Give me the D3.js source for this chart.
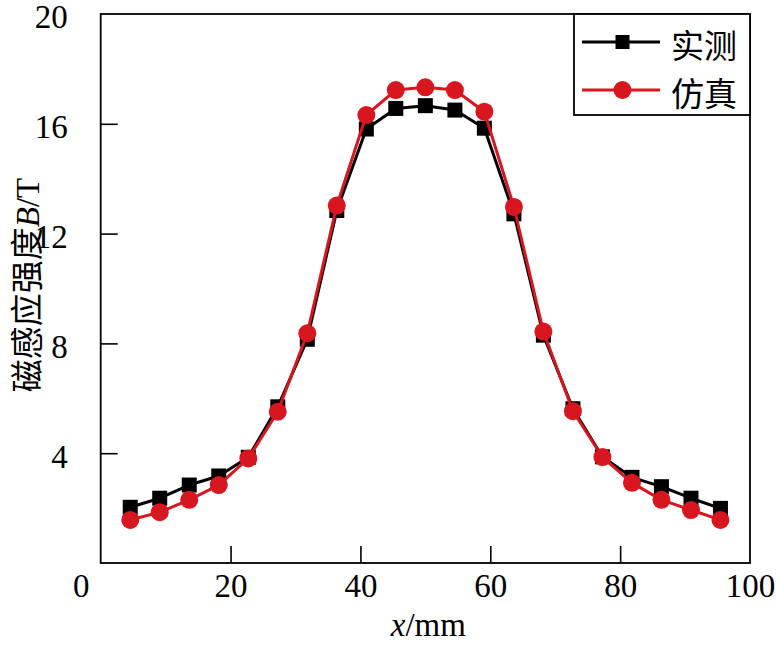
<!DOCTYPE html>
<html>
<head>
<meta charset="utf-8">
<script src="https://cdn.jsdelivr.net/npm/d3@7"></script>
<style>
  html, body { margin: 0; padding: 0; background: #fff; }
  svg { display: block; }
</style>
</head>
<body>
<svg id="chart" width="777" height="647"></svg>
<script>
// ---- data ----
const xValues = [4.55, 9.09, 13.64, 18.18, 22.73, 27.27, 31.82, 36.36, 40.91, 45.45, 50.00,
                 54.55, 59.09, 63.64, 68.18, 72.73, 77.27, 81.82, 86.36, 90.91, 95.45];
const measured = [2.03, 2.36, 2.84, 3.17, 3.85, 5.69, 8.15, 12.84, 15.81, 16.56, 16.66,
                  16.50, 15.84, 12.72, 8.30, 5.62, 3.87, 3.12, 2.78, 2.36, 1.99];
const simulated = [1.57, 1.85, 2.30, 2.84, 3.81, 5.51, 8.37, 13.02, 16.32, 17.23, 17.33,
                   17.23, 16.44, 12.97, 8.43, 5.53, 3.86, 2.92, 2.30, 1.93, 1.57];
const xTicks = [0, 20, 40, 60, 80, 100];
const yTicks = [4, 8, 12, 16, 20];
const seriesNames = ["实测", "仿真"];

// ---- layout ----
const svg = d3.select("#chart");
const L = 100.7, R = 750, T = 14, B = 563;
const x = d3.scaleLinear().domain([0, 100]).range([L, R]);
const y = d3.scaleLinear().domain([0, 20]).range([B, T]);
const latin = "'Liberation Serif', 'Times New Roman', serif";
const cjk = "'Noto Sans CJK SC', sans-serif";
const red = "#d7161f";

// axes
const xAxis = d3.axisBottom(x).tickValues(xTicks).tickSize(-17).tickPadding(17).tickFormat(d3.format("d"));
const gx = svg.append("g").attr("transform", `translate(0,${B})`).call(xAxis);
gx.select(".domain").remove();
gx.selectAll(".tick line").attr("stroke", "#000").attr("stroke-width", 1.6)
  .filter(d => d === 0 || d === 100).remove();
gx.selectAll(".tick text").attr("font-family", latin).attr("font-size", 33).attr("fill", "#000")
  .attr("dy", "0.5em")
  .attr("dx", d => d === 0 ? -20 : 0);

const yAxis = d3.axisLeft(y).tickValues(yTicks).tickSize(-17).tickPadding(33).tickFormat(d3.format("d"));
const gy = svg.append("g").attr("transform", `translate(${L},0)`).call(yAxis);
gy.select(".domain").remove();
gy.selectAll(".tick line").attr("stroke", "#000").attr("stroke-width", 1.6)
  .filter(d => d === 20).remove();
gy.selectAll(".tick text").attr("font-family", latin).attr("font-size", 33).attr("fill", "#000")
  .attr("dy", "0.42em");

// frame
svg.append("rect").attr("x", L).attr("y", T).attr("width", R - L).attr("height", B - T)
  .attr("fill", "none").attr("stroke", "#000").attr("stroke-width", 1.8);

// lines
const line = d3.line().x(d => x(d[0])).y(d => y(d[1]));
const mData = xValues.map((v, i) => [v, measured[i]]);
const sData = xValues.map((v, i) => [v, simulated[i]]);

svg.append("path").datum(mData).attr("d", line).attr("fill", "none")
  .attr("stroke", "#000").attr("stroke-width", 3).attr("stroke-linejoin", "round");
svg.append("g").selectAll("rect").data(mData).join("rect")
  .attr("x", d => x(d[0]) - 7.5).attr("y", d => y(d[1]) - 7.5)
  .attr("width", 15).attr("height", 15).attr("fill", "#000");

svg.append("path").datum(sData).attr("d", line).attr("fill", "none")
  .attr("stroke", red).attr("stroke-width", 3).attr("stroke-linejoin", "round");
svg.append("g").selectAll("circle").data(sData).join("circle")
  .attr("cx", d => x(d[0])).attr("cy", d => y(d[1])).attr("r", 9).attr("fill", red);

// legend
const lg = svg.append("g");
lg.append("rect").attr("x", 574).attr("y", T).attr("width", R - 574).attr("height", 101)
  .attr("fill", "#fff").attr("stroke", "#000").attr("stroke-width", 1.8);
const ly = [42, 90];
lg.append("line").attr("x1", 582).attr("x2", 660).attr("y1", ly[0]).attr("y2", ly[0])
  .attr("stroke", "#000").attr("stroke-width", 3);
lg.append("rect").attr("x", 622.5 - 7).attr("y", ly[0] - 7).attr("width", 14).attr("height", 14).attr("fill", "#000");
lg.append("line").attr("x1", 582).attr("x2", 660).attr("y1", ly[1]).attr("y2", ly[1])
  .attr("stroke", red).attr("stroke-width", 3);
lg.append("circle").attr("cx", 622.5).attr("cy", ly[1]).attr("r", 9).attr("fill", red);
seriesNames.forEach((n, i) => {
  lg.append("text").attr("x", 671).attr("y", ly[i] + 4).attr("dy", "0.35em")
    .attr("font-family", cjk).attr("font-size", 33).attr("fill", "#000").text(n);
});

// axis titles
const xt = svg.append("text").attr("x", (L + R) / 2 + 3).attr("y", 636).attr("text-anchor", "middle")
  .attr("font-family", latin).attr("font-size", 33).attr("fill", "#000");
xt.append("tspan").attr("font-style", "italic").text("x");
xt.append("tspan").text("/mm");

const yt = svg.append("text").attr("transform", "translate(39,285) rotate(-90)")
  .attr("text-anchor", "middle").attr("fill", "#000").attr("font-size", 33);
yt.append("tspan").attr("font-family", cjk).text("磁感应强度");
yt.append("tspan").attr("font-family", latin).attr("font-style", "italic").text("B");
yt.append("tspan").attr("font-family", latin).text("/T");
</script>
</body>
</html>
